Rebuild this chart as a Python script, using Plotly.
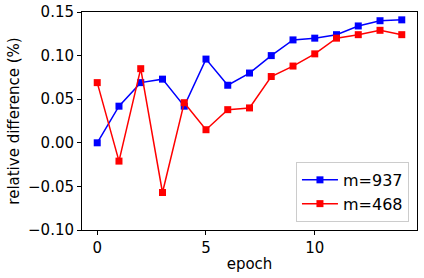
import plotly.graph_objects as go

epochs = list(range(15))
m937 = [0.000, 0.042, 0.069, 0.073, 0.042, 0.096, 0.066, 0.080, 0.100, 0.118, 0.120, 0.124, 0.134, 0.140, 0.141]
m468 = [0.069, -0.021, 0.085, -0.057, 0.046, 0.015, 0.038, 0.040, 0.076, 0.088, 0.102, 0.120, 0.124, 0.129, 0.124]
y_ticks = [-0.10, -0.05, 0.00, 0.05, 0.10, 0.15]
y_ticklabels = ["\u22120.10", "\u22120.05", "0.00", "0.05", "0.10", "0.15"]
x_ticks = [0, 5, 10]

font = dict(family="DejaVu Sans", size=15, color="black")

fig = go.Figure()
fig.add_trace(go.Scatter(x=epochs, y=m937, mode="lines+markers", name="m=937",
                         line=dict(color="blue", width=1.5),
                         marker=dict(symbol="square", size=7, color="blue")))
fig.add_trace(go.Scatter(x=epochs, y=m468, mode="lines+markers", name="m=468",
                         line=dict(color="red", width=1.5),
                         marker=dict(symbol="square", size=7, color="red")))

axis_common = dict(showgrid=False, zeroline=False, showline=True, linecolor="black",
                   linewidth=1, mirror=True, ticks="outside", ticklen=4,
                   tickcolor="black", tickfont=font, automargin=False)
fig.update_xaxes(range=[-0.7, 14.7], tickvals=x_ticks,
                 title=dict(text="epoch", font=font, standoff=2), **axis_common)
fig.update_yaxes(range=[-0.10, 0.15], tickvals=y_ticks, ticktext=y_ticklabels,
                 title=dict(text="relative difference (%)", font=font, standoff=4), **axis_common)

fig.update_layout(
    width=424, height=278,
    margin=dict(l=82, r=7, t=12, b=48),
    plot_bgcolor="white", paper_bgcolor="white",
    font=font,
    legend=dict(x=0.976, y=0.037, xanchor="right", yanchor="bottom",
                bgcolor="rgba(255,255,255,0.8)", bordercolor="#cccccc", borderwidth=1,
                font=dict(family="DejaVu Sans", size=16, color="black"),
                itemwidth=36, tracegroupgap=0),
)

fig.write_html("out.html", config={"displayModeBar": False},
               post_script="document.body.style.margin='0';document.body.style.overflow='hidden';")
